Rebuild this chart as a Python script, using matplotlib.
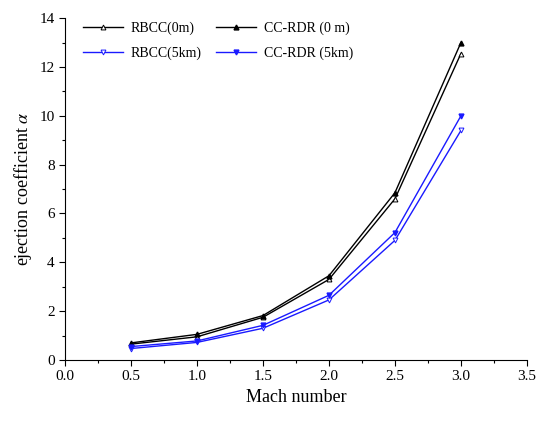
import matplotlib
matplotlib.use("Agg")
import matplotlib.pyplot as plt
from matplotlib.ticker import MultipleLocator

plt.rcParams['font.family'] = ['Liberation Serif', 'DejaVu Serif']
plt.rcParams['mathtext.fontset'] = 'stix'

mach = [0.5, 1.0, 1.5, 2.0, 2.5, 3.0]
rbcc_0m = [0.65, 0.95, 1.75, 3.3, 6.6, 12.55]
ccrdr_0m = [0.7, 1.05, 1.82, 3.45, 6.85, 13.0]
rbcc_5km = [0.47, 0.72, 1.3, 2.46, 4.9, 9.4]
ccrdr_5km = [0.55, 0.78, 1.42, 2.65, 5.22, 10.0]

fig = plt.figure(figsize=(5.39, 4.21), dpi=100)
ax = fig.add_axes([0.1206, 0.1449, 0.857, 0.812])

h1, = ax.plot(mach, rbcc_0m, color='black', lw=1.0, marker='^', ms=3.5,
              mfc='white', mec='black', mew=0.7, label='RBCC(0m)')
h2, = ax.plot(mach, ccrdr_0m, color='black', lw=1.0, marker='^', ms=3.5,
              mfc='black', mec='black', label='CC-RDR (0 m)')
h3, = ax.plot(mach, rbcc_5km, color='#1a1aff', lw=1.0, marker='v', ms=3.5,
              mfc='white', mec='#1a1aff', mew=0.7, label='RBCC(5km)')
h4, = ax.plot(mach, ccrdr_5km, color='#1a1aff', lw=1.0, marker='v', ms=3.5,
              mfc='#1a1aff', mec='#1a1aff', label='CC-RDR (5km)')

ax.set_xlim(0, 3.5)
ax.set_ylim(0, 14)
ax.xaxis.set_major_locator(MultipleLocator(0.5))
ax.xaxis.set_minor_locator(MultipleLocator(0.25))
ax.yaxis.set_major_locator(MultipleLocator(2))
ax.yaxis.set_minor_locator(MultipleLocator(1))
ax.xaxis.set_major_formatter(matplotlib.ticker.FormatStrFormatter('%.1f'))

for s in ['top', 'right']:
    ax.spines[s].set_visible(False)
ax.tick_params(which='major', direction='out', length=4, width=0.8, labelsize=11)
ax.tick_params(which='minor', direction='out', length=2.5, width=0.8)

ax.set_xlabel('Mach number', fontsize=13)
ax.set_ylabel('ejection coefficient $\\alpha$', fontsize=13)

ax.legend(handles=[h1, h3, h2, h4], loc='upper left',
          bbox_to_anchor=(83 / 539, 1 - 22 / 421), bbox_transform=fig.transFigure,
          borderaxespad=0, borderpad=0, ncol=2, frameon=False,
          fontsize=10, handlelength=2.9, columnspacing=1.0, handletextpad=0.55,
          labelspacing=0.8)

fig.savefig('out.png', dpi=100)
